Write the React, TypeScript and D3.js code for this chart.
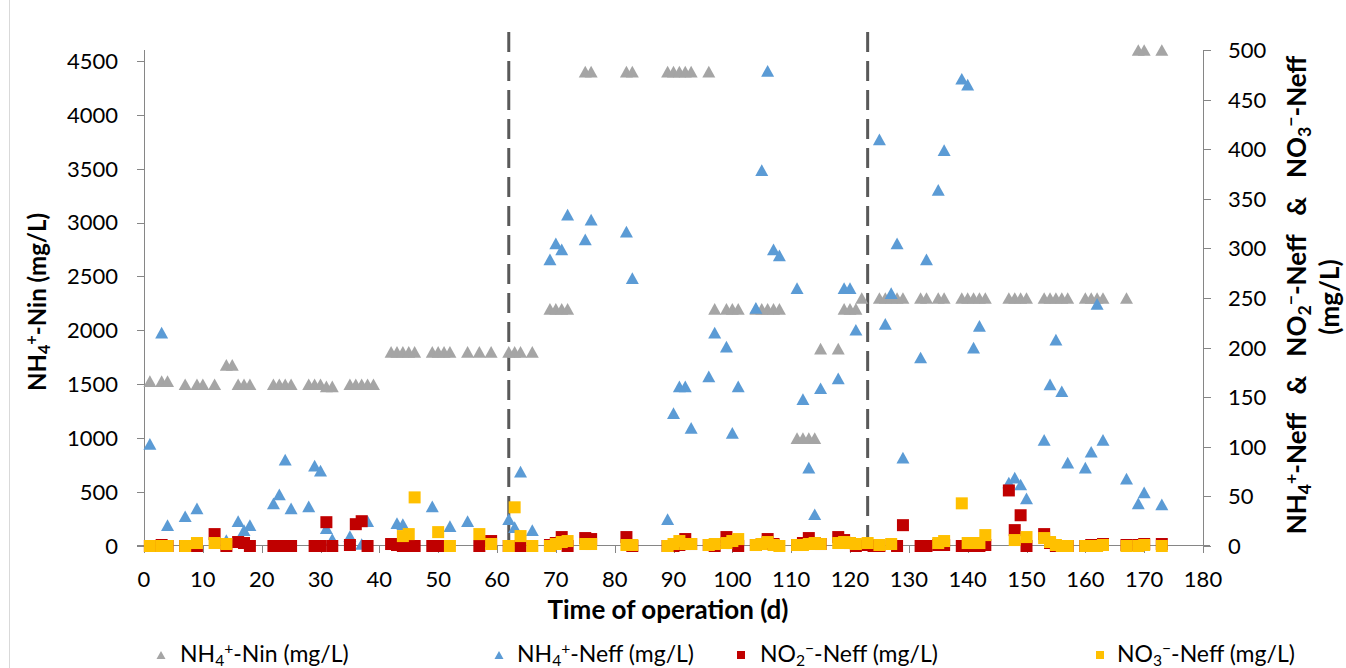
import React from 'react';
import * as d3 from 'd3';

// NH4+-Nin (left axis, mg/L)
const ninDays = [1, 3, 4, 7, 9, 10, 12, 14, 15, 16, 17, 18, 22, 23, 24, 25, 28, 29, 30, 31, 32, 35, 36, 37, 38, 39,
  42, 43, 44, 45, 46, 49, 50, 51, 52, 55, 57, 59, 62, 63, 64, 66, 69, 70, 71, 72, 75, 76, 82, 83, 89, 90, 91, 92, 93, 96,
  97, 99, 100, 101, 104, 105, 106, 107, 108, 111, 112, 113, 114, 115, 118, 119, 120, 121, 122, 125, 126, 127, 128, 129,
  132, 133, 135, 136, 139, 140, 141, 142, 143, 147, 148, 149, 150, 153, 154, 155, 156, 157, 160, 161, 162, 163, 167,
  169, 170, 173];
const ninValues = [1530, 1530, 1530, 1500, 1500, 1500, 1500, 1680, 1680, 1500, 1500, 1500, 1500, 1500, 1500, 1500,
  1500, 1500, 1500, 1480, 1480, 1500, 1500, 1500, 1500, 1500,
  1800, 1800, 1800, 1800, 1800, 1800, 1800, 1800, 1800, 1800, 1800, 1800, 1800, 1800, 1800, 1800,
  2200, 2200, 2200, 2200, 4400, 4400, 4400, 4400, 4400, 4400, 4400, 4400, 4400, 4400,
  2200, 2200, 2200, 2200, 2200, 2200, 2200, 2200, 2200, 1000, 1000, 1000, 1000, 1830, 1830, 2200, 2200, 2200, 2300,
  2300, 2300, 2300, 2300, 2300, 2300, 2300, 2300, 2300, 2300, 2300, 2300, 2300, 2300, 2300, 2300, 2300, 2300,
  2300, 2300, 2300, 2300, 2300, 2300, 2300, 2300, 2300, 2300, 4600, 4600, 4600];

// NH4+-Neff (right axis)
const neffDays = [1, 3, 4, 7, 9, 14, 16, 17, 18, 22, 23, 24, 25, 28, 29, 30, 31, 32, 35, 37, 38, 43, 44, 49, 52, 55,
  62, 63, 64, 66, 69, 70, 71, 72, 75, 76, 82, 83, 89, 90, 91, 92, 93, 96, 97, 99, 100, 101, 104, 105, 106, 107, 108,
  111, 112, 113, 114, 115, 118, 119, 120, 121, 125, 126, 127, 128, 129, 132, 133, 135, 136, 139, 140, 141, 142,
  147, 148, 149, 150, 153, 154, 155, 156, 157, 160, 161, 162, 163, 167, 169, 170, 173];
const neffValues = [103, 215, 21, 30, 38, 6, 25, 16, 21, 43, 52, 87, 38, 40, 81, 76, 18, 7, 10, 2, 25, 23, 22, 40, 20, 25,
  27, 19, 75, 16, 289, 305, 299, 334, 309, 329, 317, 270, 27, 134, 161, 161, 119, 171, 215, 201, 114, 161, 240, 379, 479, 299, 293,
  260, 148, 79, 32, 159, 169, 260, 260, 218, 410, 224, 255, 305, 89, 190, 289, 359, 399, 471, 465, 200, 222,
  64, 69, 62, 48, 107, 163, 208, 156, 84, 79, 95, 244, 107, 68, 43, 54, 42];

// NO2−-Neff (right axis)
const no2Days = [1, 3, 4, 7, 9, 12, 14, 16, 17, 18, 22, 23, 24, 25, 29, 30, 31, 32, 35, 36, 37, 38, 42, 43, 44, 45, 46,
  49, 50, 51, 57, 59, 62, 64, 69, 70, 71, 72, 75, 76, 82, 83, 89, 90, 91, 92, 93, 96, 97, 99, 100, 101, 104, 105, 106, 107,
  111, 112, 113, 114, 115, 118, 119, 120, 121, 123, 124, 125, 128, 129, 132, 133, 135, 136, 139, 140, 141, 142, 143,
  147, 148, 149, 150, 153, 154, 155, 156, 157, 160, 161, 162, 163, 167, 169, 170, 173];
const no2Values = [0, 1, 0, 0, 0, 12, 0, 4, 3, 0, 0, 0, 0, 0, 0, 0, 24, 0, 1, 22, 25, 0, 2, 1, 0, 0, 0,
  0, 0, 0, 0, 5, 0, 0, 1, 3, 9, 0, 8, 7, 9, 0, 0, 0, 1, 7, 2, 1, 0, 9, 3, 0, 1, 2, 7, 2,
  1, 3, 8, 3, 2, 9, 6, 3, 0, 1, 0, 0, 0, 21, 0, 0, 1, 1, 0, 0, 0, 0, 1,
  56, 16, 31, 0, 12, 3, 0, 0, 0, 0, 1, 1, 2, 1, 1, 2, 2];

// NO3−-Neff (right axis)
const no3Days = [1, 3, 4, 7, 9, 12, 14, 44, 45, 46, 50, 52, 57, 59, 62, 63, 64, 66, 69, 70, 71, 72, 75, 76, 82, 83,
  89, 90, 91, 92, 93, 96, 97, 99, 100, 101, 104, 105, 106, 107, 108, 111, 112, 113, 114, 115, 118, 119, 120, 121,
  123, 125, 127, 135, 136, 139, 140, 141, 142, 143, 148, 150, 153, 154, 155, 156, 157, 160, 161, 162, 163, 167, 169, 170, 173];
const no3Values = [0, 0, 0, 0, 3, 3, 2, 10, 12, 49, 14, 0, 12, 2, 0, 39, 10, 0, 0, 2, 4, 5, 2, 2, 1, 1,
  0, 2, 5, 2, 2, 1, 2, 3, 5, 7, 1, 2, 4, 1, 0, 1, 1, 2, 3, 2, 3, 4, 3, 2,
  3, 1, 2, 3, 5, 43, 3, 3, 3, 11, 6, 9, 8, 4, 1, 0, 0, 0, 0, 0, 1, 0, 0, 1, 0];

// phase boundaries (d)
const phaseDays = [62, 123];

const xTicks = [0, 10, 20, 30, 40, 50, 60, 70, 80, 90, 100, 110, 120, 130, 140, 150, 160, 170, 180];
const leftTicks = [0, 500, 1000, 1500, 2000, 2500, 3000, 3500, 4000, 4500];
const rightTicks = [0, 50, 100, 150, 200, 250, 300, 350, 400, 450, 500];

type Seg = { t: string; s?: 'sub' | 'sup' };
const ninLabel: Seg[] = [{ t: 'NH' }, { t: '4', s: 'sub' }, { t: '+', s: 'sup' }, { t: '-Nin (mg/L)' }];
const neffLabel: Seg[] = [{ t: 'NH' }, { t: '4', s: 'sub' }, { t: '+', s: 'sup' }, { t: '-Neff (mg/L)' }];
const no2Label: Seg[] = [{ t: 'NO' }, { t: '2', s: 'sub' }, { t: '\u2212', s: 'sup' }, { t: '-Neff (mg/L)' }];
const no3Label: Seg[] = [{ t: 'NO' }, { t: '3', s: 'sub' }, { t: '\u2212', s: 'sup' }, { t: '-Neff (mg/L)' }];
const rightTitle: Seg[] = [{ t: 'NH' }, { t: '4', s: 'sub' }, { t: '+', s: 'sup' }, { t: '-Neff   &   NO' },
  { t: '2', s: 'sub' }, { t: '\u2212', s: 'sup' }, { t: '-Neff   &   NO' }, { t: '3', s: 'sub' }, { t: '\u2212', s: 'sup' }, { t: '-Neff' }];

const GRAY = '#a5a5a5';
const BLUE = '#5b9bd5';
const RED = '#c00000';
const YELLOW = '#ffc000';
const AXIS = '#868686';
const FONT = "Lato, 'Open Sans', sans-serif";

const Rich = ({ segs, size, ...rest }: any) => (
  <text fontSize={size} fontFamily={FONT} style={{ whiteSpace: 'pre' }} {...rest}>
    {segs.map((g: Seg, i: number) => (
      <tspan key={i}
        fontSize={g.s ? size * 0.68 : undefined}
        baselineShift={g.s === 'sub' ? -size * 0.18 : g.s === 'sup' ? size * 0.36 : undefined}>
        {g.t}
      </tspan>
    ))}
  </text>
);

const tri = (s: number) => `M0,${-s * 0.45}L${s * 0.5},${s * 0.45}L${-s * 0.5},${s * 0.45}Z`;

export default function App() {
  const W = 1346, H = 668;
  const x = d3.scaleLinear().domain([0, 180]).range([144, 1203]);
  const yL = d3.scaleLinear().domain([0, 4600]).range([546, 50]);
  const yR = d3.scaleLinear().domain([0, 500]).range([546, 50]);
  const y0 = 545.5;

  const triMarks = (days: number[], vals: number[], y: any, color: string) =>
    days.map((d, i) => (
      <path key={i} d={tri(13)} transform={`translate(${x(d)},${y(vals[i])})`} fill={color} />
    ));
  const sqMarks = (days: number[], vals: number[], color: string) =>
    days.map((d, i) => (
      <rect key={i} x={x(d) - 6} y={yR(vals[i]) - 6} width={12} height={12} fill={color} />
    ));

  return (
    <svg width={W} height={H} style={{ position: 'fixed', left: 0, top: 0, background: '#fff' }}>
      <rect x={9.5} y={-2} width={W + 10} height={H + 10} fill="#fff" stroke="#d9d9d9" />

      {/* axes */}
      <line x1={137} x2={1210} y1={y0} y2={y0} stroke={AXIS} />
      <line x1={144.5} x2={144.5} y1={50} y2={y0} stroke={AXIS} />
      <line x1={1203.5} x2={1203.5} y1={50} y2={553} stroke={AXIS} />
      {leftTicks.map(t => (
        <g key={t}>
          <line x1={137} x2={144} y1={Math.round(yL(t)) + 0.5} y2={Math.round(yL(t)) + 0.5} stroke={AXIS} />
          <text x={118} y={yL(t)} dy="0.36em" textAnchor="end" fontSize={22} fontFamily={FONT}>{t}</text>
        </g>
      ))}
      {rightTicks.map(t => (
        <g key={t}>
          <line x1={1203} x2={1211} y1={Math.round(yR(t)) + 0.5} y2={Math.round(yR(t)) + 0.5} stroke={AXIS} />
          <text x={1228} y={yR(t)} dy="0.36em" textAnchor="start" fontSize={22} fontFamily={FONT}>{t}</text>
        </g>
      ))}
      {xTicks.map(t => (
        <g key={t}>
          <line x1={Math.round(x(t)) + 0.5} x2={Math.round(x(t)) + 0.5} y1={y0} y2={553} stroke={AXIS} />
          <text x={x(t)} y={587} textAnchor="middle" fontSize={22} fontFamily={FONT}>{t}</text>
        </g>
      ))}

      {/* phase separators */}
      {phaseDays.map(d => (
        <line key={d} x1={x(d)} x2={x(d)} y1={32} y2={546} stroke="#595959" strokeWidth={3} strokeDasharray="20 9" />
      ))}

      {/* series */}
      <g>{triMarks(ninDays, ninValues, yL, GRAY)}</g>
      <g>{triMarks(neffDays, neffValues, yR, BLUE)}</g>
      <g>{sqMarks(no2Days, no2Values, RED)}</g>
      <g>{sqMarks(no3Days, no3Values, YELLOW)}</g>

      {/* titles */}
      <text x={668} y={619} textAnchor="middle" fontSize={26} fontWeight="bold" fontFamily={FONT}>Time of operation (d)</text>
      <Rich segs={ninLabel} size={24} fontWeight="bold" textAnchor="middle" transform="translate(46,302) rotate(-90)" />
      <Rich segs={rightTitle} size={26} fontWeight="bold" textAnchor="middle" transform="translate(1306,295) rotate(-90)" />
      <text fontSize={26} fontWeight="bold" fontFamily={FONT} textAnchor="middle" transform="translate(1339,297) rotate(-90)">(mg/L)</text>

      {/* legend */}
      <path d={tri(9)} transform="translate(161,655)" fill={GRAY} />
      <Rich segs={ninLabel} size={23} x={180} y={662} />
      <path d={tri(9)} transform="translate(499,655)" fill={BLUE} />
      <Rich segs={neffLabel} size={23} x={517} y={662} />
      <rect x={737} y={651} width={8} height={8} fill={RED} />
      <Rich segs={no2Label} size={23} x={760} y={662} />
      <rect x={1096} y={651} width={8} height={8} fill={YELLOW} />
      <Rich segs={no3Label} size={23} x={1117} y={662} />
    </svg>
  );
}
